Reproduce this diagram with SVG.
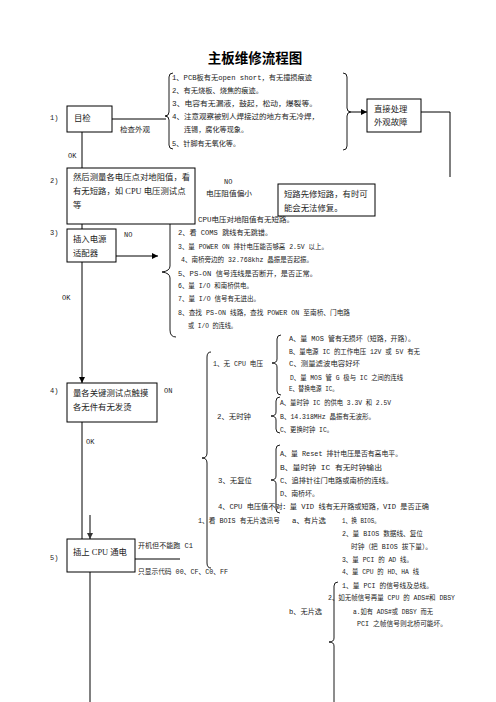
<svg xmlns="http://www.w3.org/2000/svg" width="496" height="702" viewBox="0 0 496 702">
<defs>
<marker id="ar" viewBox="0 0 10 10" refX="10" refY="5" markerWidth="6" markerHeight="6" orient="auto" markerUnits="userSpaceOnUse"><path d="M0,0 L10,5 L0,10 z" fill="#000"/></marker>
<marker id="ag" viewBox="0 0 10 10" refX="10" refY="5" markerWidth="6" markerHeight="6" orient="auto" markerUnits="userSpaceOnUse"><path d="M0,0 L10,5 L0,10 z" fill="#333"/></marker>
</defs>
<style>
.t{font-family:"Liberation Mono","Noto Sans CJK SC",monospace;font-size:7px;fill:#222}
.bx{font-family:"Liberation Serif","Noto Sans CJK SC",serif;font-size:8.4px;fill:#222}
.n{font-family:"Liberation Mono","Noto Sans CJK SC",monospace;font-size:7px;fill:#222}
.box{fill:#fff;stroke:#000;stroke-width:1}
.ln{fill:none;stroke:#000;stroke-width:1}
.br{fill:none;stroke:#000;stroke-width:0.9}
.gl{fill:none;stroke:#808080;stroke-width:2}
</style>
<rect width="496" height="702" fill="#fff"/>
<text x="255" y="63" text-anchor="middle" style="font-family:'Noto Sans CJK SC',sans-serif;font-size:13.5px;font-weight:bold">主板维修流程图</text>

<g id="connectors">
<path class="ln" d="M82,132 V168"/>
<path class="ln" d="M82,224 V229"/>
<path class="ln" d="M82,262 V383" marker-end="url(#ar)"/>
<path class="ln" d="M82,410 V539"/>
<path class="gl" d="M90,515 V539" marker-end="url(#ag)"/>
<path class="gl" d="M90,572 V702"/>
<path class="ln" d="M112,119 H166"/>
<path class="ln" d="M351,112 H367" marker-end="url(#ar)"/>
<path class="ln" d="M421,112 H450 V177"/>
<path class="ln" d="M116,256 H158" marker-end="url(#ar)"/>
<path class="ln" d="M135,559 H180"/>
<path class="br" d="M173,73 Q169,73 169,77 L169,112 Q169,116 165,116 Q169,116 169,120 L169,145 Q169,149 173,149"/>
<path class="br" d="M343,73 Q347,73 347,77 L347,108 Q347,112 351,112 Q347,112 347,116 L347,146 Q347,150 343,150"/>
<path class="br" d="M176,208 Q170,208 170,215 L170,266 Q170,271 162,272 Q170,273 170,278 L170,330 Q170,337 176,337"/>
<path class="br" d="M211,352 Q207,352 207,357 L207,453 Q207,458 202,458 Q207,458 207,463 L207,563 Q207,568 211,568"/>
<path class="br" d="M281,335 Q277,335 277,339 L277,359 Q277,363 272,363 Q277,363 277,367 L277,391 Q277,395 281,395"/>
<path class="br" d="M280,397 Q276,397 276,401 L276,412 Q276,416 271,416 Q276,416 276,420 L276,429 Q276,433 280,433"/>
<path class="br" d="M280,445 Q276,445 276,449 L276,476 Q276,480 271,480 Q276,480 276,484 L276,509 Q276,513 280,513"/>
<path class="br" d="M338,582 Q334,582 334,586 L334,638 Q334,642 329,642 Q334,642 334,646 L334,702"/>
</g>

<g id="n1">
<rect class="box" x="67" y="106" width="45" height="26"/>
<text class="bx" x="74" y="121">目检</text>
<text class="n" x="50" y="120">1)</text>
<text class="t" x="120" y="132" textLength="30" lengthAdjust="spacingAndGlyphs">检查外观</text>
<text class="n" x="68" y="158">OK</text>
</g>

<g id="list1">
<text class="t" x="172" y="80" textLength="140" lengthAdjust="spacingAndGlyphs">1、PCB板有无open short，有无撞损痕迹</text>
<text class="t" x="172" y="93" textLength="91" lengthAdjust="spacingAndGlyphs">2、有无烧板、烧焦的痕迹。</text>
<text class="t" x="172" y="106" textLength="145" lengthAdjust="spacingAndGlyphs">3、电容有无漏液，鼓起，松动，爆裂等。</text>
<text class="t" x="172" y="119" textLength="147" lengthAdjust="spacingAndGlyphs">4、注意观察被别人焊接过的地方有无冷焊，</text>
<text class="t" x="184" y="132" textLength="64" lengthAdjust="spacingAndGlyphs">连锡，腐化等现象。</text>
<text class="t" x="172" y="146" textLength="68" lengthAdjust="spacingAndGlyphs">5、针脚有无氧化等。</text>
</g>

<g id="n1r">
<rect class="box" x="367" y="99" width="54" height="33"/>
<text class="bx" x="374" y="112">直接处理</text>
<text class="bx" x="374" y="125">外观故障</text>
</g>

<g id="n2">
<rect class="box" x="67" y="168" width="128" height="56"/>
<text class="bx" x="73" y="180">然后测量各电压点对地阻值，看</text>
<text class="bx" x="73" y="194">有无短路，如 CPU 电压测试点</text>
<text class="bx" x="73" y="208">等</text>
<text class="n" x="50" y="183">2)</text>
<text class="n" x="224" y="184">NO</text>
<text class="t" x="206" y="196" textLength="46" lengthAdjust="spacingAndGlyphs">电压阻值偏小</text>
</g>

<g id="n2r">
<rect class="box" x="278" y="184" width="97" height="32"/>
<text class="bx" x="284" y="197">短路先修短路，有时可</text>
<text class="bx" x="284" y="211">能会无法修复。</text>
</g>

<g id="list3">
<text class="t" x="198" y="222" textLength="96" lengthAdjust="spacingAndGlyphs">CPU电压对地阻值有无短路。</text>
<text class="t" x="178" y="235" textLength="94" lengthAdjust="spacingAndGlyphs">2、看 COMS 跳线有无跳错。</text>
<text class="t" x="178" y="249" textLength="150" lengthAdjust="spacingAndGlyphs">3、量 POWER ON 排针电压能否够高 2.5V 以上。</text>
<text class="t" x="181" y="262" textLength="132" lengthAdjust="spacingAndGlyphs">4、南桥旁边的 32.768khz 晶振是否起振。</text>
<text class="t" x="178" y="276" textLength="139" lengthAdjust="spacingAndGlyphs">5、PS-ON 信号连线是否断开，是否正常。</text>
<text class="t" x="178" y="288" textLength="75" lengthAdjust="spacingAndGlyphs">6、量 I/O 和南桥供电。</text>
<text class="t" x="178" y="301" textLength="82" lengthAdjust="spacingAndGlyphs">7、量 I/O 信号有无进出。</text>
<text class="t" x="178" y="315" textLength="172" lengthAdjust="spacingAndGlyphs">8、查找 PS-ON 线路，查找 POWER ON 至南桥、门电路</text>
<text class="t" x="188" y="328" textLength="49" lengthAdjust="spacingAndGlyphs">或 I/O 的连线。</text>
</g>

<g id="n3">
<rect class="box" x="67" y="229" width="49" height="33"/>
<text class="bx" x="73" y="242">插入电源</text>
<text class="bx" x="73" y="256">适配器</text>
<text class="n" x="50" y="235">3)</text>
<text class="n" x="124" y="237">NO</text>
<text class="n" x="62" y="300">OK</text>
</g>

<g id="n4">
<rect class="box" x="67" y="383" width="90" height="39"/>
<text class="bx" x="73" y="396">量各关键测试点触摸</text>
<text class="bx" x="73" y="410">各无件有无发烫</text>
<text class="n" x="50" y="393">4)</text>
<text class="n" x="164" y="393">ON</text>
<text class="n" x="86" y="444">OK</text>
</g>

<g id="list4">
<text class="t" x="213" y="366" textLength="50" lengthAdjust="spacingAndGlyphs">1、无 CPU 电压</text>
<text class="t" x="289" y="341" textLength="126" lengthAdjust="spacingAndGlyphs">A、量 MOS 管有无损坏（短路，开路）。</text>
<text class="t" x="289" y="354" textLength="131" lengthAdjust="spacingAndGlyphs">B、量电源 IC 的工作电压 12V 或 5V 有无</text>
<text class="t" x="289" y="366" textLength="71" lengthAdjust="spacingAndGlyphs">C、测量滤波电容好坏</text>
<text class="t" x="290" y="380" textLength="113" lengthAdjust="spacingAndGlyphs">D、量 MOS 管 G 极与 IC 之间的连线</text>
<text class="t" x="289" y="391" textLength="49" lengthAdjust="spacingAndGlyphs">E、替换电源 IC。</text>
<text class="t" x="217" y="419" textLength="34" lengthAdjust="spacingAndGlyphs">2、无时钟</text>
<text class="t" x="280" y="405" textLength="111" lengthAdjust="spacingAndGlyphs">A、量时钟 IC 的供电 3.3V 和 2.5V</text>
<text class="t" x="280" y="419" textLength="95" lengthAdjust="spacingAndGlyphs">B、14.318MHz 晶振有无波形。</text>
<text class="t" x="280" y="432" textLength="53" lengthAdjust="spacingAndGlyphs">C、更换时钟 IC。</text>
<text class="t" x="218" y="483" textLength="34" lengthAdjust="spacingAndGlyphs">3、无复位</text>
<text class="t" x="280" y="456" textLength="122" lengthAdjust="spacingAndGlyphs">A、量 Reset 排针电压是否有高电平。</text>
<text class="t" x="280" y="470" textLength="102" lengthAdjust="spacingAndGlyphs">B、量时钟 IC 有无时钟输出</text>
<text class="t" x="280" y="483" textLength="113" lengthAdjust="spacingAndGlyphs">C、追排针往门电路或南桥的连线。</text>
<text class="t" x="280" y="496" textLength="39" lengthAdjust="spacingAndGlyphs">D、南桥坏。</text>
<text class="t" x="218" y="509" textLength="211" lengthAdjust="spacingAndGlyphs">4、CPU 电压值不对：量 VID 线有无开路或短路，VID 是否正确</text>
</g>

<g id="n5">
<rect class="box" x="67" y="539" width="68" height="33"/>
<text class="bx" x="73" y="555">插上 CPU 通电</text>
<text class="n" x="50" y="560">5)</text>
<text class="t" x="138" y="548" textLength="55" lengthAdjust="spacingAndGlyphs">开机但不能跑 C1</text>
<text class="t" x="138" y="574" textLength="90" lengthAdjust="spacingAndGlyphs">只显示代码 00、CF、C0、FF</text>
</g>

<g id="list5">
<text class="t" x="198" y="523" textLength="82" lengthAdjust="spacingAndGlyphs">1、看 BOIS 有无片选讯号</text>
<text class="t" x="292" y="523" textLength="34" lengthAdjust="spacingAndGlyphs">a、有片选</text>
<text class="t" x="342" y="523" textLength="38" lengthAdjust="spacingAndGlyphs">1、换 BIOS。</text>
<text class="t" x="342" y="536" textLength="81" lengthAdjust="spacingAndGlyphs">2、量 BIOS 数据线、复位</text>
<text class="t" x="351" y="549" textLength="81" lengthAdjust="spacingAndGlyphs">时钟（把 BIOS 拔下量）。</text>
<text class="t" x="342" y="562" textLength="71" lengthAdjust="spacingAndGlyphs">3、量 PCI 的 AD 线。</text>
<text class="t" x="342" y="574" textLength="77" lengthAdjust="spacingAndGlyphs">4、量 CPU 的 HD、HA 线</text>
<text class="t" x="289" y="614" textLength="33" lengthAdjust="spacingAndGlyphs">b、无片选</text>
<text class="t" x="342" y="588" textLength="91" lengthAdjust="spacingAndGlyphs">1、量 PCI 的信号线及总线。</text>
<text class="t" x="328" y="600" textLength="127" lengthAdjust="spacingAndGlyphs">2、如无帧信号再量 CPU 的 ADS#和 DBSY</text>
<text class="t" x="353" y="614" textLength="80" lengthAdjust="spacingAndGlyphs">a.如有 ADS#或 DBSY 而无</text>
<text class="t" x="357" y="626" textLength="90" lengthAdjust="spacingAndGlyphs">PCI 之帧信号则北桥可能坏。</text>
</g>
</svg>
